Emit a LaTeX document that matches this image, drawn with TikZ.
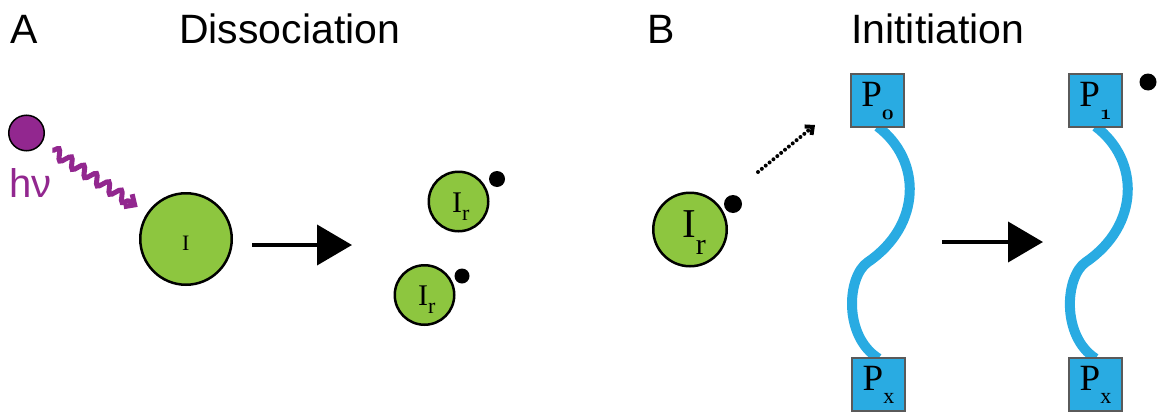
\documentclass[tikz,border=0pt]{standalone}
\usepackage{fontspec}
\newfontfamily\hel{Liberation Sans}
\newfontfamily\ser{Liberation Serif}
\usetikzlibrary{arrows.meta,decorations.pathmorphing,calc}
\definecolor{igreen}{RGB}{141,198,63}
\definecolor{pblue}{RGB}{41,171,226}
\definecolor{hvpurple}{RGB}{146,39,143}
\definecolor{boxgray}{RGB}{90,90,90}
\newcommand{\osnum}[1]{{\usefont{OML}{cmm}{b}{it}#1}}
\newcommand{\plabel}[1]{{\ser\fontsize{37}{37}\selectfont P\raisebox{-13pt}{\fontsize{22}{22}\selectfont #1}}}
\newcommand{\irlabel}[3]{{\ser\fontsize{#1}{#1}\selectfont I\raisebox{-#3pt}{\fontsize{#2}{#2}\selectfont r}}}
\begin{document}
\begin{tikzpicture}[x=1pt,y=-1pt,
  ttl/.style={anchor=base west, inner sep=0, font=\hel\fontsize{41}{41}\selectfont},
  mol/.style={circle, draw=black, line width=2.5pt, fill=igreen, inner sep=0},
  rad/.style={circle, fill=black, inner sep=0, minimum size=#1},
  pbox/.style={rectangle, draw=boxgray, line width=2pt, fill=pblue, minimum size=53pt, inner sep=0},
  pchain/.style={draw=pblue, line width=10pt},
  bigarrow/.style={line width=4pt, -{Triangle[length=35pt,width=40pt]}},
  lbl/.style={anchor=base west, inner sep=0},
]
\useasboundingbox (0,0) rectangle (1159,415);
% titles
\node[ttl] (tA) at (10,43) {A};
\node[ttl] (tD) at (179,43) {Dissociation};
\node[ttl] (tB) at (647,43) {B};
\node[ttl] (tI) at (851,43) {Inititiation};
% photon
\node[circle, draw=black, line width=1.5pt, fill=hvpurple, minimum size=35.5pt, inner sep=0] (ph) at (26.5,133) {};
\node[anchor=base west, inner sep=0, text=hvpurple, font=\hel\fontsize{40}{40}\selectfont] (hv) at (9.5,197) {hν};
% initiator
\node[mol, minimum size=91.5pt] (I) at (186,239) {};
\node[lbl, font=\ser\fontsize{22}{22}\selectfont] (Il) at (182,250) {I};
\draw[hvpurple, line width=5pt, decorate,
      decoration={snake, amplitude=5pt, segment length=15pt, post length=9pt},
      -{Straight Barb[length=8pt,width=15pt]}]
  ($(ph)!31pt!(I)$) -- ($(I)!58pt!(ph)$);
% arrow A
\coordinate (a1s) at (252,245);
\coordinate (a1e) at (352,245);
\draw[bigarrow] (a1s) -- (a1e);
% radicals A
\node[mol, minimum size=59.5pt] (r1) at (458.5,201.5) {};
\node[rad=16pt] (d1) at (497,179) {};
\node[lbl] (r1l) at (452,212) {\irlabel{30}{22}{8}};
\node[mol, minimum size=59.5pt] (r2) at (424.5,295) {};
\node[rad=15pt] (d2) at (462,276) {};
\node[lbl] (r2l) at (418,305.5) {\irlabel{30}{22}{8}};
% radical B
\node[mol, minimum size=73.5pt] (r3) at (690,229.5) {};
\node[rad=18pt] (d3) at (733,204) {};
\node[lbl] (r3l) at (682,237) {\irlabel{41}{30}{17}};
\coordinate (ds) at (758,172);
\coordinate (de) at (815,125);
\draw[line width=4pt, dash pattern=on 0pt off 5pt, line cap=round,
      -{Straight Barb[length=6pt,width=11pt]}] (ds) -- (de);
% chains
\coordinate (P0c) at (877.5,100.5);
\coordinate (P1c) at (1095.5,100.5);
\coordinate (Px1c) at (878.5,384.5);
\coordinate (Px2c) at (1095.5,384.5);
\draw[pchain] ($(P0c)+(0,26)$) .. controls (922,160) and (922,225) .. (868,262)
  .. controls (847,276) and (843,336) .. ($(Px1c)+(0,-26)$);
\draw[pchain] ($(P1c)+(0,26)$) .. controls (1140,160) and (1140,225) .. (1086,262)
  .. controls (1065,276) and (1061,336) .. ($(Px2c)+(0,-26)$);
\node[pbox] (P0) at (P0c) {\plabel{\osnum{0}}};
\node[pbox] (Px1) at (Px1c) {\plabel{x}};
\node[pbox] (P1) at (P1c) {\plabel{\osnum{1}}};
\node[pbox] (Px2) at (Px2c) {\plabel{x}};
\node[rad=17pt] (d4) at (1148,82) {};
% arrow B
\coordinate (a2s) at (942,242);
\coordinate (a2e) at (1043,242);
\draw[bigarrow] (a2s) -- (a2e);
\end{tikzpicture}
\end{document}
